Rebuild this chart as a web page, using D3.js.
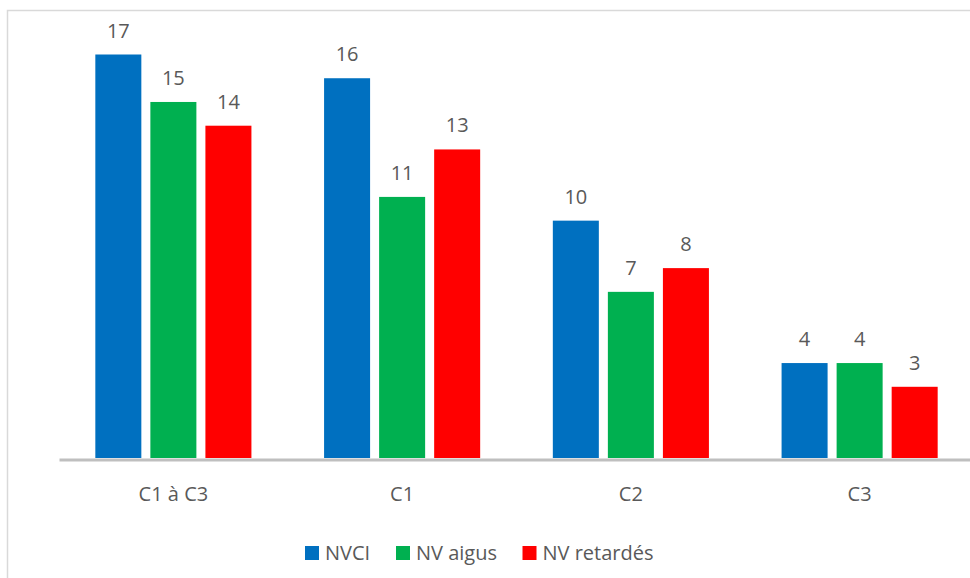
<!DOCTYPE html>
<html>
<head>
<meta charset="utf-8">
<script src="https://cdn.jsdelivr.net/npm/d3@7"></script>
<style>
  body { margin: 0; background: #fff; }
  svg text { font-family: "Open Sans", "Liberation Sans", sans-serif; fill: #595959; }
</style>
</head>
<body>
<div id="chart"></div>
<script>
const categories = ["C1 à C3", "C1", "C2", "C3"];
const seriesNames = ["NVCI", "NV aigus", "NV retardés"];
const seriesColors = ["#0070c0", "#00b050", "#ff0000"];
const nvci = [17, 16, 10, 4];
const nvAigus = [15, 11, 7, 4];
const nvRetardes = [14, 13, 8, 3];

const seriesValues = [nvci, nvAigus, nvRetardes];

const width = 970, height = 578;
const margin = { top: 54.5, left: 59, right: -4, bottom: 120 };

const svg = d3.select("#chart").append("svg")
  .attr("width", width)
  .attr("height", height);

// chart frame
svg.append("rect")
  .attr("x", 7.5).attr("y", 10.5)
  .attr("width", width + 20).attr("height", height + 20)
  .attr("fill", "none")
  .attr("stroke", "#d9d9d9")
  .attr("stroke-width", 1.5);

const baseY = height - margin.bottom;

const x0 = d3.scaleBand()
  .domain(categories)
  .range([margin.left, width - margin.right])
  .paddingInner(0).paddingOuter(0);

const x1 = d3.scaleBand()
  .domain(seriesNames)
  .range([0, x0.bandwidth()])
  .paddingInner(0.164)
  .paddingOuter(0.66);

const y = d3.scaleLinear()
  .domain([0, 17])
  .range([baseY, margin.top]);

const rows = [];
categories.forEach((c, i) => {
  seriesNames.forEach((s, j) => {
    rows.push({ cat: c, series: s, value: seriesValues[j][i], color: seriesColors[j] });
  });
});

const g = svg.append("g");

g.selectAll(".bar")
  .data(rows)
  .enter().append("rect")
  .attr("class", "bar")
  .attr("x", d => x0(d.cat) + x1(d.series))
  .attr("y", d => y(d.value))
  .attr("width", x1.bandwidth())
  .attr("height", d => baseY - y(d.value))
  .attr("fill", d => d.color);

g.selectAll(".val")
  .data(rows)
  .enter().append("text")
  .attr("class", "val")
  .attr("x", d => x0(d.cat) + x1(d.series) + x1.bandwidth() / 2)
  .attr("y", d => y(d.value) - 17)
  .attr("text-anchor", "middle")
  .style("font-size", "20px")
  .text(d => d.value);

// x axis
const xAxis = svg.append("g")
  .attr("transform", `translate(0,${baseY + 1.5})`)
  .call(d3.axisBottom(x0).tickSize(0).tickPadding(27));
xAxis.select(".domain").attr("stroke", "#bfbfbf").attr("stroke-width", 3);
xAxis.selectAll("text")
  .style("font-size", "20px")
  .style("font-family", "\"Open Sans\", sans-serif")
  .attr("fill", "#595959");

// legend
const legendX = [305, 396, 522.5];
const legend = svg.append("g").selectAll(".leg")
  .data(seriesNames)
  .enter().append("g")
  .attr("transform", (d, i) => `translate(${legendX[i]},546)`);
legend.append("rect")
  .attr("width", 14).attr("height", 14)
  .attr("fill", (d, i) => seriesColors[i]);
legend.append("text")
  .attr("x", 20).attr("y", 13.5)
  .style("font-size", "20px")
  .text(d => d);
</script>
</body>
</html>
